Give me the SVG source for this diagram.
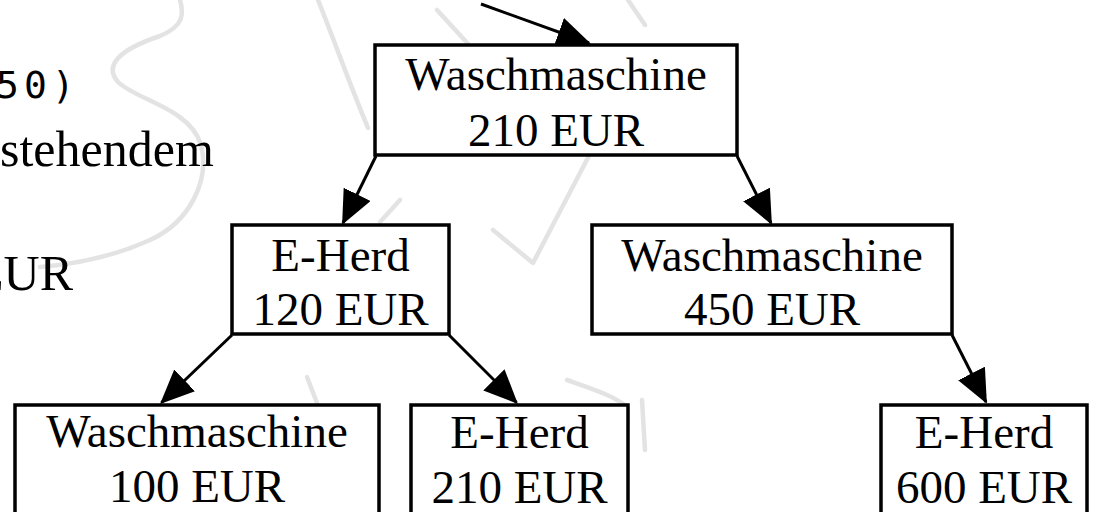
<svg xmlns="http://www.w3.org/2000/svg" width="1093" height="512" viewBox="0 0 1093 512">
  <style>
    .box { fill: #ffffff; stroke: #000000; stroke-width: 3.5; }
    .lbl { font-family: "Liberation Serif", "Times New Roman", serif; font-size: 47px; fill: #000000; text-anchor: middle; }
    .body { font-family: "Liberation Serif", "Times New Roman", serif; font-size: 50px; fill: #000000; }
    .mono { font-family: "DejaVu Sans Mono", "Liberation Mono", monospace; font-size: 38px; fill: #000000; letter-spacing: 5px; }
    .edge { fill: none; stroke: #000000; stroke-width: 3; marker-end: url(#head); }
    .wm { fill: none; stroke: #e3e3e3; stroke-width: 4.5; stroke-linecap: round; stroke-linejoin: round; }
  </style>
  <defs>
    <marker id="head" markerUnits="userSpaceOnUse" viewBox="0 0 34 30" markerWidth="34" markerHeight="30" refX="32" refY="15" orient="auto">
      <path d="M0,0 L34,15 L0,30 Z" fill="#000000"/>
    </marker>
  </defs>

  <rect width="1093" height="512" fill="#ffffff"/>

  <!-- faint background watermark strokes -->
  <g id="watermark" class="wm">
    <path d="M180,0 C184,14 184,26 160,36 C118,50 104,66 118,82 C136,100 190,108 201,145 C210,180 190,222 150,240 C115,256 75,264 40,267"/>
    <path d="M318,0 C334,40 352,90 368,128"/>
    <path d="M437,10 L470,46"/>
    <path d="M628,0 L645,25"/>
    <path d="M592,150 L533,263 L493,230"/>
    <path d="M400,200 L380,222"/>
    <path d="M307,377 L317,403"/>
    <path d="M567,380 C590,388 615,396 627,407 C630,430 622,452 613,470"/>
    <path d="M642,400 L645,450"/>
  </g>

  <!-- surrounding body text -->
  <g id="body-text">
    <text class="mono" x="-4" y="98">50)</text>
    <text class="body" x="0" y="166">stehendem</text>
    <text class="body" x="73" y="290" text-anchor="end">EUR</text>
  </g>

  <!-- connectors -->
  <g id="edges">
    <path class="edge" d="M481,4 L589,43"/>
    <path class="edge" d="M376,156 L343,223"/>
    <path class="edge" d="M737,156 L771,223"/>
    <path class="edge" d="M232,335 L161.5,402.5"/>
    <path class="edge" d="M449,335 L516.5,402.5"/>
    <path class="edge" d="M952,335 L986,402"/>
  </g>

  <g id="n-root">
    <rect class="box" x="375" y="45" width="362" height="110"/>
    <text class="lbl" x="556" y="90">Waschmaschine</text>
    <text class="lbl" x="556" y="146">210 EUR</text>
  </g>

  <g id="n-herd-120">
    <rect class="box" x="232" y="225" width="217" height="109"/>
    <text class="lbl" x="340.5" y="271">E-Herd</text>
    <text class="lbl" x="340.5" y="325">120 EUR</text>
  </g>

  <g id="n-wasch-450">
    <rect class="box" x="592" y="225" width="360" height="109"/>
    <text class="lbl" x="772" y="271">Waschmaschine</text>
    <text class="lbl" x="772" y="325">450 EUR</text>
  </g>

  <g id="n-wasch-100">
    <rect class="box" x="15" y="405" width="364" height="120"/>
    <text class="lbl" x="197" y="447">Waschmaschine</text>
    <text class="lbl" x="197" y="502">100 EUR</text>
  </g>

  <g id="n-herd-210">
    <rect class="box" x="411" y="405" width="217" height="120"/>
    <text class="lbl" x="519.5" y="448">E-Herd</text>
    <text class="lbl" x="519.5" y="503">210 EUR</text>
  </g>

  <g id="n-herd-600">
    <rect class="box" x="881" y="405" width="206" height="120"/>
    <text class="lbl" x="984" y="448">E-Herd</text>
    <text class="lbl" x="984" y="503">600 EUR</text>
  </g>
</svg>
